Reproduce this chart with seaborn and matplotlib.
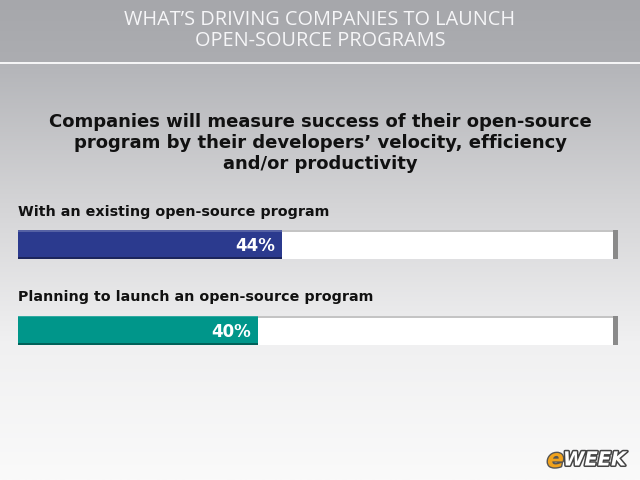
import numpy as np
import pandas as pd
import matplotlib
matplotlib.use("Agg")
import matplotlib.pyplot as plt
import matplotlib.patheffects as pe
from matplotlib.colors import LinearSegmentedColormap
import seaborn as sns

# ---- data ----
categories = ["With an existing open-source program",
              "Planning to launch an open-source program"]
values = [44, 40]
value_labels = ["44%", "40%"]
bar_colors = ["#2b3a8e", "#00968a"]
header = "WHAT\u2019S DRIVING COMPANIES TO LAUNCH\nOPEN-SOURCE PROGRAMS"
subtitle = ("Companies will measure success of their open-source\n"
            "program by their developers\u2019 velocity, efficiency\n"
            "and/or productivity")

sns.set_theme(style="white")
plt.rcParams['font.family'] = ['DejaVu Sans']

W, H = 640, 480
fig = plt.figure(figsize=(6.4, 4.8), dpi=100)

# background
bg = fig.add_axes([0, 0, 1, 1])
bg.set_xlim(0, W); bg.set_ylim(H, 0); bg.axis("off")
grad = np.linspace(0, 1, 256).reshape(-1, 1)
cmap = LinearSegmentedColormap.from_list("g", ["#b4b5b9", "#d4d4d6", "#f0f0f1", "#fafafa"])
bg.imshow(grad, extent=[0, W, H, 64], aspect="auto", cmap=cmap, zorder=0)
hcmap = LinearSegmentedColormap.from_list("h", ["#a6a7ab", "#acadb1"])
bg.imshow(grad, extent=[0, W, 62, 0], aspect="auto", cmap=hcmap, zorder=0)
bg.plot([0, W], [63, 63], color="#f4f4f6", lw=1.3, zorder=1)

bg.text(320, 30.5, header, ha="center", va="center", color="#f6f6f8",
        fontsize=14.3, family=["Open Sans", "DejaVu Sans"], fontweight="normal",
        linespacing=1.08, zorder=5)
bg.text(320, 143, subtitle, ha="center", va="center", color="#111111",
        fontsize=13, fontweight="bold", linespacing=1.22, zorder=5)
for lab, y in zip(categories, [212, 297]):
    bg.text(18, y, lab, ha="left", va="center", color="#111111",
            fontsize=10.3, fontweight="bold", zorder=5)

# eWEEK logo
bg.text(547, 460, "e", ha="left", va="center", color="#f0a21d", fontsize=18,
        fontweight="bold", style="italic", zorder=5,
        path_effects=[pe.withStroke(linewidth=2, foreground="#555555")])
bg.text(563, 460, "WEEK", ha="left", va="center", color="#ffffff", fontsize=14,
        fontweight="bold", style="italic", zorder=5,
        path_effects=[pe.withStroke(linewidth=2.2, foreground="#444444")])

# bars
x0, x1 = 18, 618
unit = 85.5
bw = 29 / unit
top_px = 230
ax_h = (1 + bw) * unit
ax = fig.add_axes([x0 / W, 1 - (top_px + ax_h) / H, (x1 - x0) / W, ax_h / H])
df = pd.DataFrame({"cat": categories, "val": values, "full": [100, 100]})
sns.barplot(data=df, x="full", y="cat", color="white", width=bw, ax=ax,
            edgecolor="none", saturation=1)
sns.barplot(data=df, x="val", y="cat", hue="cat", palette=bar_colors,
            width=bw, ax=ax, edgecolor="none", saturation=1, legend=False)
ax.set_xlim(0, 100)
ax.set_ylim(1 + bw / 2, -bw / 2)
ax.axis("off")
# shading details
for i in range(2):
    ax.add_patch(plt.Rectangle((99.2, i - bw / 2), 0.8, bw, color="#8a8a8a", lw=0))
    ax.add_patch(plt.Rectangle((values[i], i - bw / 2), 99.2 - values[i], bw * 0.08,
                               color="#c4c4c4", lw=0))
    ax.add_patch(plt.Rectangle((0, i + bw / 2 - bw * 0.06), values[i], bw * 0.06,
                               color="black", alpha=0.35, lw=0))
    ax.add_patch(plt.Rectangle((0, i - bw / 2), values[i], bw * 0.06,
                               color="white", alpha=0.2, lw=0))
for i, (v, t) in enumerate(zip(values, value_labels)):
    ax.text(v - 1.1, i + 0.02, t, ha="right", va="center", color="white",
            fontsize=12, fontweight="bold")

fig.savefig("out.png", dpi=100)
